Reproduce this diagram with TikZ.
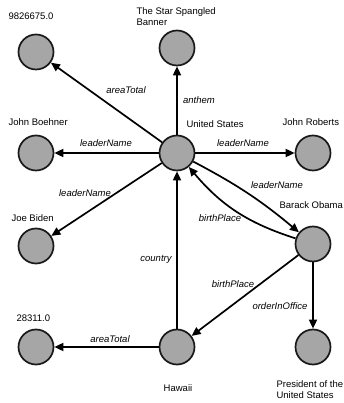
\documentclass[tikz,border=0pt]{standalone}
\usepackage{fontspec}
\setmainfont{Liberation Sans}
\usetikzlibrary{arrows.meta}
\definecolor{nodegray}{HTML}{A6A6A6}
\begin{document}
\begin{tikzpicture}[x=1pt,y=1pt,
    font=\fontsize{9.5}{11.5}\selectfont,
    res/.style={circle,draw=black!90,fill=nodegray,line width=1.7pt,minimum size=35pt,inner sep=0pt},
    prop/.style={font=\fontsize{9.5}{11.5}\selectfont\itshape},
    rel/.style={line width=1.7pt,-{Triangle[length=9pt,width=8pt]}}]
  \useasboundingbox (0,0) rectangle (344,403);

  % resources
  \node[res] (area1) at (36,351) {};
  \node[res] (banner) at (177,355) {};
  \node[res] (boehner) at (36,250) {};
  \node[res] (us) at (177,250) {};
  \node[res] (roberts) at (313,250) {};
  \node[res] (biden) at (36,157) {};
  \node[res] (obama) at (313,159) {};
  \node[res] (area2) at (36,56) {};
  \node[res] (hawaii) at (177,56) {};
  \node[res] (president) at (313,56) {};

  % names
  \node[anchor=west] (tarea1) at (5,387) {9826675.0};
  \node[anchor=west,align=left] (tbanner) at (133,386.5) {The Star Spangled\\Banner};
  \node[anchor=west] (tboehner) at (5,281) {John Boehner};
  \node[anchor=west] (tus) at (183,279) {United States};
  \node[anchor=west] (troberts) at (279,281) {John Roberts};
  \node[anchor=west] (tbiden) at (8,185) {Joe Biden};
  \node[anchor=west] (tobama) at (276,198) {Barack Obama};
  \node[anchor=west] (tarea2) at (13,85) {28311.0};
  \node (thawaii) at (178,15) {Hawaii};
  \node[anchor=west,align=left] (tpresident) at (273,13.5) {President of the\\United States};

  % properties
  \draw[rel] (us) -- (area1);
  \draw[rel] (us) -- (banner);
  \draw[rel] (us) -- (boehner);
  \draw[rel] (us) -- (roberts);
  \draw[rel] (us) -- (biden);
  \draw[rel] (us) to[bend left=6] (obama);
  \draw[rel] (obama) to[bend left=16] (us);
  \draw[rel] (hawaii) -- (us);
  \draw[rel] (obama) -- (hawaii);
  \draw[rel] (obama) -- (president);
  \draw[rel] (hawaii) -- (area2);

  \node[prop] (larea1) at (126,313) {areaTotal};
  \node[prop] (lanthem) at (199,303) {anthem};
  \node[prop] (lboehner) at (106,260) {leaderName};
  \node[prop] (lroberts) at (243,260) {leaderName};
  \node[prop] (lbiden) at (85,210) {leaderName};
  \node[prop] (lobama) at (277,218) {leaderName};
  \node[prop] (lbirth1) at (220,185) {birthPlace};
  \node[prop] (lcountry) at (156,144) {country};
  \node[prop] (lbirth2) at (233,119) {birthPlace};
  \node[prop] (loffice) at (280,97) {orderInOffice};
  \node[prop] (larea2) at (110,64) {areaTotal};
\end{tikzpicture}
\end{document}
